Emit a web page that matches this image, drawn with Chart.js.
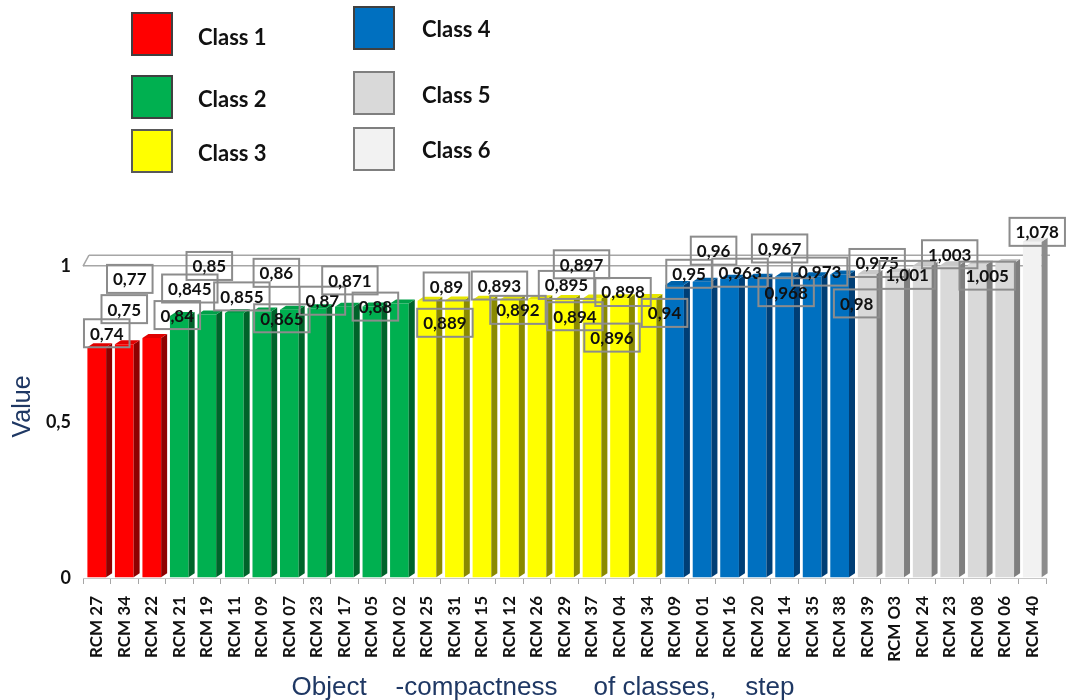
<!DOCTYPE html>
<html>
<head>
<meta charset="utf-8">
<script src="https://cdn.jsdelivr.net/npm/chart.js@4/dist/chart.umd.min.js"></script>
<style>
  html, body { margin: 0; padding: 0; background: #ffffff; }
  #wrap { width: 1067px; height: 700px; }
</style>
</head>
<body>
<div id="wrap"><canvas id="chart" width="1067" height="700"></canvas></div>
<script>
// ---- data ----
const categories = [
  'RCM 27', 'RCM 34', 'RCM 22',
  'RCM 21', 'RCM 19', 'RCM 11', 'RCM 09', 'RCM 07', 'RCM 23', 'RCM 17', 'RCM 05', 'RCM 02',
  'RCM 25', 'RCM 31', 'RCM 15', 'RCM 12', 'RCM 26', 'RCM 29', 'RCM 37', 'RCM 04', 'RCM 34',
  'RCM 09', 'RCM 01', 'RCM 16', 'RCM 20', 'RCM 14', 'RCM 35', 'RCM 38',
  'RCM 39', 'RCM O3', 'RCM 24', 'RCM 23', 'RCM 08', 'RCM 06',
  'RCM 40'
];
const values = [
  0.74, 0.75, 0.77,
  0.84, 0.845, 0.85, 0.855, 0.86, 0.865, 0.87, 0.871, 0.88,
  0.889, 0.89, 0.892, 0.893, 0.894, 0.895, 0.896, 0.897, 0.898,
  0.94, 0.95, 0.96, 0.963, 0.967, 0.968, 0.973,
  0.975, 0.98, 1.001, 1.003, 1.005, 1.01,
  1.078
];
const classOf = [
  1, 1, 1,
  2, 2, 2, 2, 2, 2, 2, 2, 2,
  3, 3, 3, 3, 3, 3, 3, 3, 3,
  4, 4, 4, 4, 4, 4, 4,
  5, 5, 5, 5, 5, 5,
  6
];
const classNames = ['Class 1', 'Class 2', 'Class 3', 'Class 4', 'Class 5', 'Class 6'];
const yTickValues = [0, 0.5, 1];
const xTitle = 'Object    -compactness     of classes,    step';
const yTitle = 'Value';

// ---- styling ----
const classFront = ['#ff0000', '#00b050', '#ffff00', '#0070c0', '#d9d9d9', '#f2f2f2'];
const classSide  = ['#8e0000', '#00632a', '#8a8a00', '#003e75', '#7f7f7f', '#8c8c8c'];
const classTop   = ['#e00000', '#00a048', '#e6e600', '#0062aa', '#c8c8c8', '#e4e4e4'];
const classEdge  = ['#404040', '#404040', '#595959', '#404040', '#7f7f7f', '#7f7f7f'];

// value-label placement relative to each bar (dx from centre, dy from top), null = no label
const labelOffsets = [
  [10, -14], [0, -35], [-22, -59],
  [-2, -1], [-17, -26], [-25, -47], [-20, -15], [-13, -37], [-35, 10], [-22, -6], [-22, -26], [-24, 3],
  [18, 22], [-8, -14], [36, 10], [-10, -14], [38, 17], [2, -14], [20, 39], [-38, -34], [-24, -6],
  [-10, 28], [-13, -8], [-16, -28], [-17, -5], [-5, -28], [-26, 16], [-20, -3],
  [10, -11], [-38, 31], [-15, 9], [0, -11], [10, 11], null,
  [5, -10]
];

// legend layout: swatch corner and text anchor for each class
const legendItems = [
  { sx: 132, sy: 13,  tx: 198, ty: 38 },
  { sx: 132, sy: 76,  tx: 198, ty: 100 },
  { sx: 132, sy: 130, tx: 198, ty: 154 },
  { sx: 354, sy: 7,   tx: 422, ty: 30 },
  { sx: 354, sy: 72,  tx: 422, ty: 96 },
  { sx: 354, sy: 128, tx: 422, ty: 151 }
];

const fmt = v => String(v).replace('.', ',');
const DEPTH_X = 6, DEPTH_Y = 4;

// 3D depth faces, value labels, legend, axis caption and the back-wall line
const decor = {
  id: 'decor',
  beforeDatasetsDraw(chart) {
    const { ctx, chartArea, scales } = chart;
    const y1 = scales.y.getPixelForValue(1);
    ctx.save();
    ctx.strokeStyle = '#a6a6a6';
    ctx.lineWidth = 1.5;
    ctx.beginPath();
    ctx.moveTo(chartArea.left + 6, y1 - 11);
    ctx.lineTo(chartArea.right + 4, y1 - 11);
    ctx.moveTo(chartArea.left, y1);
    ctx.lineTo(chartArea.left + 6, y1 - 11);
    ctx.stroke();
    ctx.restore();
  },
  afterDatasetsDraw(chart) {
    const { ctx } = chart;
    const meta = chart.getDatasetMeta(0);
    ctx.save();
    meta.data.forEach((bar, i) => {
      const c = classOf[i] - 1;
      const half = bar.width / 2;
      const l = bar.x - half, r = bar.x + half, t = bar.y, b = bar.base;
      ctx.fillStyle = classSide[c];
      ctx.beginPath();
      ctx.moveTo(r, t);
      ctx.lineTo(r + DEPTH_X, t - DEPTH_Y);
      ctx.lineTo(r + DEPTH_X, b - DEPTH_Y);
      ctx.lineTo(r, b);
      ctx.closePath();
      ctx.fill();
      ctx.fillStyle = classTop[c];
      ctx.beginPath();
      ctx.moveTo(l, t);
      ctx.lineTo(r, t);
      ctx.lineTo(r + DEPTH_X, t - DEPTH_Y);
      ctx.lineTo(l + DEPTH_X, t - DEPTH_Y);
      ctx.closePath();
      ctx.fill();
    });
    ctx.font = 'bold 17px Lato';
    ctx.textAlign = 'center';
    ctx.textBaseline = 'middle';
    meta.data.forEach((bar, i) => {
      const off = labelOffsets[i];
      if (!off) return;
      const text = fmt(values[i]);
      const cx = bar.x + off[0];
      const cy = bar.y + off[1];
      const w = ctx.measureText(text).width + 12;
      const h = 28;
      ctx.strokeStyle = '#8c8c8c';
      ctx.lineWidth = 2;
      ctx.strokeRect(cx - w / 2, cy - h / 2, w, h);
      ctx.fillStyle = '#111111';
      ctx.fillText(text, cx, cy + 1);
    });
    ctx.restore();
  },
  afterDraw(chart) {
    const { ctx } = chart;
    ctx.save();
    ctx.font = 'bold 22px Lato';
    ctx.textAlign = 'left';
    ctx.textBaseline = 'middle';
    classNames.forEach((name, i) => {
      const it = legendItems[i];
      ctx.fillStyle = classFront[i];
      ctx.fillRect(it.sx, it.sy, 40, 42);
      ctx.strokeStyle = classEdge[i];
      ctx.lineWidth = 2;
      ctx.strokeRect(it.sx, it.sy, 40, 42);
      ctx.fillStyle = '#111111';
      ctx.fillText(name, it.tx, it.ty);
    });
    // x-axis caption
    ctx.font = '26px "Liberation Sans"';
    ctx.textAlign = 'center';
    ctx.textBaseline = 'middle';
    ctx.fillStyle = '#1f3864';
    ctx.fillText(xTitle, 543, 688);
    ctx.restore();
  }
};

new Chart(document.getElementById('chart'), {
  type: 'bar',
  data: {
    labels: categories,
    datasets: [{
      data: values,
      backgroundColor: classOf.map(c => classFront[c - 1]),
      borderWidth: 0,
      categoryPercentage: 1,
      barPercentage: 0.68
    }]
  },
  options: {
    responsive: false,
    animation: false,
    layout: { padding: { top: 235, left: 8, right: 21, bottom: 0 } },
    plugins: { legend: { display: false }, tooltip: { enabled: false } },
    scales: {
      x: {
        afterFit: s => { s.height = 122; },
        border: { display: true, color: '#c8c8c8', width: 1 },
        grid: { drawOnChartArea: false, tickLength: 6, color: '#a6a6a6' },
        ticks: {
          minRotation: 90, maxRotation: 90, autoSkip: false, padding: 12,
          color: '#111111', font: { family: 'Lato', weight: 'bold', size: 17 }
        }
      },
      y: {
        min: 0, max: 1.1,
        afterFit: s => { s.width = 75; },
        afterBuildTicks: s => { s.ticks = yTickValues.map(v => ({ value: v })); },
        border: { display: false },
        grid: {
          drawTicks: false,
          lineWidth: 1.5,
          color: ctx => (ctx.tick && ctx.tick.value === 1 ? '#a6a6a6' : 'rgba(0,0,0,0)')
        },
        ticks: {
          padding: 12,
          color: '#111111',
          font: { family: 'Lato', weight: 'bold', size: 18 },
          callback: v => fmt(v)
        },
        title: {
          display: true,
          text: yTitle,
          color: '#1f3864',
          font: { family: 'Liberation Sans', size: 25 },
          padding: { top: 0, bottom: 0 }
        }
      }
    }
  },
  plugins: [decor]
});
</script>
</body>
</html>
